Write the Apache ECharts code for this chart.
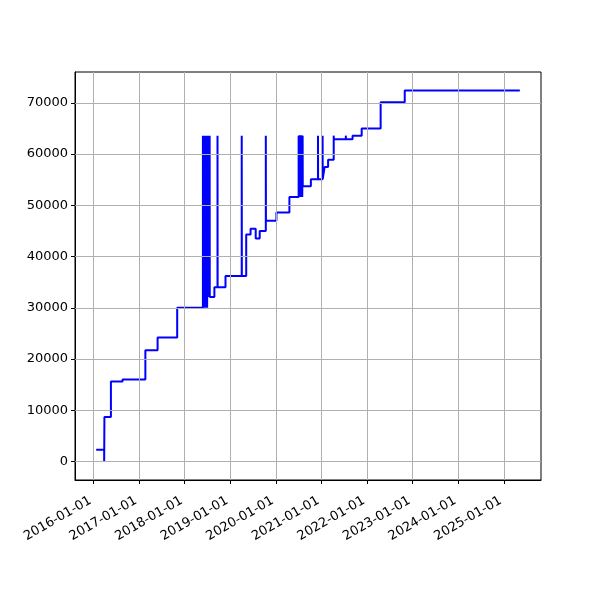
<!DOCTYPE html>
<html>
<head>
<meta charset="utf-8">
<script src="https://cdn.jsdelivr.net/npm/echarts@6/dist/echarts.min.js"></script>
<style>html,body{margin:0;padding:0;background:#fff;}#c{width:600px;height:600px;}</style>
</head>
<body>
<div id="c"></div>
<script>
// ---- data (step series, value held until next date) ----
var dates = [
  '2016-01-23','2016-03-27','2016-03-29','2016-05-20','2016-08-21','2017-02-20','2017-05-29','2017-11-02',
  // cluster of spikes mid 2018
  '2018-05-27','2018-05-28','2018-05-30','2018-05-31','2018-06-02','2018-06-03','2018-06-05','2018-06-06',
  '2018-06-08','2018-06-09','2018-06-11','2018-06-12','2018-06-14','2018-06-15','2018-06-17','2018-06-18',
  '2018-06-20','2018-06-21','2018-06-23','2018-06-24','2018-06-26','2018-06-27','2018-06-29','2018-06-30',
  '2018-07-02','2018-07-03','2018-07-05','2018-07-06','2018-07-08','2018-07-09','2018-07-11','2018-07-12',
  '2018-07-14','2018-07-15','2018-07-17','2018-07-18','2018-07-20','2018-07-21',
  '2018-08-27','2018-09-21','2018-09-22','2018-11-24','2019-04-03','2019-04-04',
  '2019-05-09','2019-06-13','2019-07-24','2019-08-25','2019-10-13','2019-10-14',
  '2020-01-06','2020-04-19',
  // cluster of spikes mid 2020
  '2020-07-02','2020-07-03','2020-07-06','2020-07-07','2020-07-10','2020-07-11','2020-07-14','2020-07-15',
  '2020-07-18','2020-07-19','2020-07-22','2020-07-23','2020-07-26','2020-07-27','2020-07-30','2020-07-31',
  '2020-08-03','2020-08-04',
  '2020-10-08','2020-12-04','2020-12-05','2021-01-10','2021-01-11','2021-01-26','2021-02-23',
  '2021-04-09','2021-04-10','2021-07-15','2021-07-16','2021-09-07','2021-11-19','2022-04-20','2022-10-30',
  '2025-05-09'
];
var values = [
  2300, 0, 8700, 15600, 16000, 21700, 24200, 30000,
  63600, 30000, 63600, 30000, 63600, 30000, 63600, 30000,
  63600, 30000, 63600, 30000, 63600, 30000, 63600, 30000,
  63600, 30000, 63600, 30000, 63600, 30000, 63600, 30000,
  63600, 32100, 63600, 32100, 63600, 32100, 63600, 32100,
  63600, 32100, 63600, 32100, 63600, 32100,
  34000, 63600, 34000, 36200, 63600, 36200,
  44300, 45400, 43500, 45000, 63600, 47000,
  48600, 51600,
  63600, 51600, 63600, 51600, 63600, 51600, 63600, 51600,
  63600, 51600, 63600, 51600, 63600, 51600, 63600, 51600,
  63600, 53700,
  55100, 63600, 55100, 63600, 55100, 57500, 58900,
  63600, 62900, 63600, 62900, 63600, 65000, 70100, 72400,
  72400
];
var yTicks = [0, 10000, 20000, 30000, 40000, 50000, 60000, 70000];
var xTickDates = ['2016-01-01','2017-01-01','2018-01-01','2019-01-01','2020-01-01',
                  '2021-01-01','2022-01-01','2023-01-01','2024-01-01','2025-01-01'];

// ---- build ----
function ts(s){ return +new Date(s + 'T00:00:00'); }
var seriesData = dates.map(function(d, i){ return [ts(d), values[i]]; });
var xTicks = xTickDates.map(ts);

var tMin = seriesData[0][0], tMax = seriesData[seriesData.length-1][0];
var tPad = (tMax - tMin) * 0.05;
var vMin = Math.min.apply(null, values), vMax = Math.max.apply(null, values);
var vPad = (vMax - vMin) * 0.05;

function pad2(n){ return (n < 10 ? '0' : '') + n; }
function fmtDate(v){ var d = new Date(v); return d.getFullYear() + '-' + pad2(d.getMonth()+1) + '-' + pad2(d.getDate()); }

var font = 'DejaVu Sans';
var chart = echarts.init(document.getElementById('c'), null, {renderer: 'canvas'});
chart.setOption({
  animation: false,
  backgroundColor: '#ffffff',
  grid: {left: 75, right: 59, top: 72, bottom: 120, show: true, borderColor: '#000', borderWidth: 1, backgroundColor: '#fff', containLabel: false},
  xAxis: {
    type: 'value',
    min: tMin - tPad, max: tMax + tPad,
    splitLine: {show: false},
    axisLine: {show: true, onZero: false, lineStyle: {color: '#000', width: 1}},
    axisTick: {show: true, length: 4, lineStyle: {color: '#000', width: 1}, customValues: xTicks},
    axisLabel: {
      customValues: xTicks, rotate: 30, margin: 7, align: 'right', verticalAlign: 'top',
      padding: [3, 9, 0, 0],
      fontFamily: font, fontSize: 13, color: '#000',
      formatter: function(v){ return fmtDate(v); }
    }
  },
  yAxis: {
    type: 'value',
    min: vMin - vPad, max: vMax + vPad,
    splitLine: {show: false},
    axisLine: {show: true, lineStyle: {color: '#000', width: 1}},
    axisTick: {show: true, length: 4, lineStyle: {color: '#000', width: 1}, customValues: yTicks},
    axisLabel: {customValues: yTicks, margin: 7, fontFamily: font, fontSize: 13, color: '#000',
      formatter: function(v){ return String(v); }}
  },
  series: [
    {
      type: 'line', data: [], silent: true, z: 1,
      markLine: {
        silent: true, symbol: ['none','none'], animation: false,
        label: {show: false},
        lineStyle: {color: '#b0b0b0', width: 1, type: 'solid'},
        emphasis: {disabled: true},
        data: xTicks.map(function(t){ return {xAxis: t}; }).concat(yTicks.map(function(v){ return {yAxis: v}; }))
      }
    },
    {
      type: 'line', data: seriesData, step: 'end', showSymbol: false, symbol: 'none',
      z: 3, silent: true,
      lineStyle: {color: '#0000ff', width: 2}
    }
  ]
});
</script>
</body>
</html>
